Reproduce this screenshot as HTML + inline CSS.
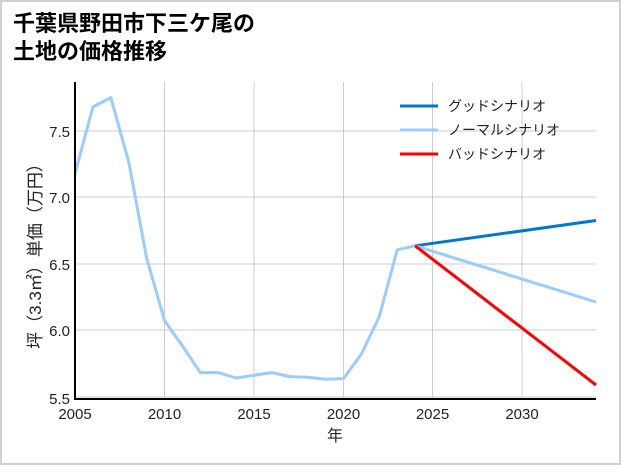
<!DOCTYPE html>
<html><head><meta charset="utf-8"><style>
body{margin:0;background:#fff;}
svg text{font-family:"Liberation Sans","Noto Sans CJK JP",sans-serif;}
</style></head><body>
<svg width="621" height="465" viewBox="0 0 621 465" xmlns="http://www.w3.org/2000/svg">
<rect x="1" y="1" width="619" height="463" fill="#fff" stroke="#d0d0d0" stroke-width="2"/>
<text x="13" y="31" font-size="22" font-weight="bold" fill="#000">千葉県野田市下三ケ尾の</text>
<text x="13" y="59" font-size="22" font-weight="bold" fill="#000">土地の価格推移</text>
<g stroke="#cccccc" stroke-width="1">
<line x1="164.5" y1="82" x2="164.5" y2="398"/><line x1="254" y1="82" x2="254" y2="398"/>
<line x1="343.5" y1="82" x2="343.5" y2="398"/><line x1="432.5" y1="82" x2="432.5" y2="398"/>
<line x1="522" y1="82" x2="522" y2="398"/>
<line x1="75" y1="131" x2="596" y2="131"/><line x1="75" y1="197" x2="596" y2="197"/>
<line x1="75" y1="264" x2="596" y2="264"/><line x1="75" y1="330" x2="596" y2="330"/>
<line x1="75" y1="397" x2="596" y2="397"/>
</g>
<polyline fill="none" stroke="#99ccff" stroke-width="3" stroke-linejoin="round" points="75,173.7 92.9,107 110.8,97.6 128.7,161.7 146.6,257.8 164.5,320.6 182.4,345.9 200.3,372.6 218.2,372.6 236.1,378 254,375.3 271.9,372.6 289.8,376.6 307.7,377.3 325.6,379.3 343.5,378.6 361.4,354 379.3,316.6 397.2,249.8 415.1,245.8"/>
<line x1="415.1" y1="245.8" x2="596" y2="220.5" stroke="#0077cc" stroke-width="3"/>
<line x1="415.1" y1="245.8" x2="596" y2="302" stroke="#99ccff" stroke-width="3"/>
<line x1="415.1" y1="245.8" x2="596" y2="385" stroke="#ff0000" stroke-width="3"/>
<line x1="75" y1="82" x2="75" y2="399.5" stroke="#000" stroke-width="2"/>
<line x1="74" y1="399" x2="596" y2="399" stroke="#000" stroke-width="2"/>
<g font-size="15" fill="#222" text-anchor="end">
<text x="70" y="137">7.5</text><text x="70" y="203">7.0</text><text x="70" y="270">6.5</text>
<text x="70" y="336">6.0</text><text x="70" y="404">5.5</text>
</g>
<g font-size="15" fill="#222" text-anchor="middle">
<text x="75" y="419">2005</text><text x="164.5" y="419">2010</text><text x="254" y="419">2015</text>
<text x="343.5" y="419">2020</text><text x="432.5" y="419">2025</text><text x="522" y="419">2030</text>
<text x="335" y="441" font-size="16">年</text>
</g>
<text transform="translate(41,252) rotate(-90)" font-size="17" fill="#222" text-anchor="middle">坪（3.3㎡）単価（万円）</text>
<g font-size="14" fill="#222">
<line x1="400" y1="106" x2="438" y2="106" stroke="#0077cc" stroke-width="3"/><text x="448" y="111">グッドシナリオ</text>
<line x1="400" y1="130" x2="438" y2="130" stroke="#99ccff" stroke-width="3"/><text x="448" y="135">ノーマルシナリオ</text>
<line x1="400" y1="154" x2="438" y2="154" stroke="#ff0000" stroke-width="3"/><text x="448" y="159">バッドシナリオ</text>
</g>
</svg>
</body></html>
